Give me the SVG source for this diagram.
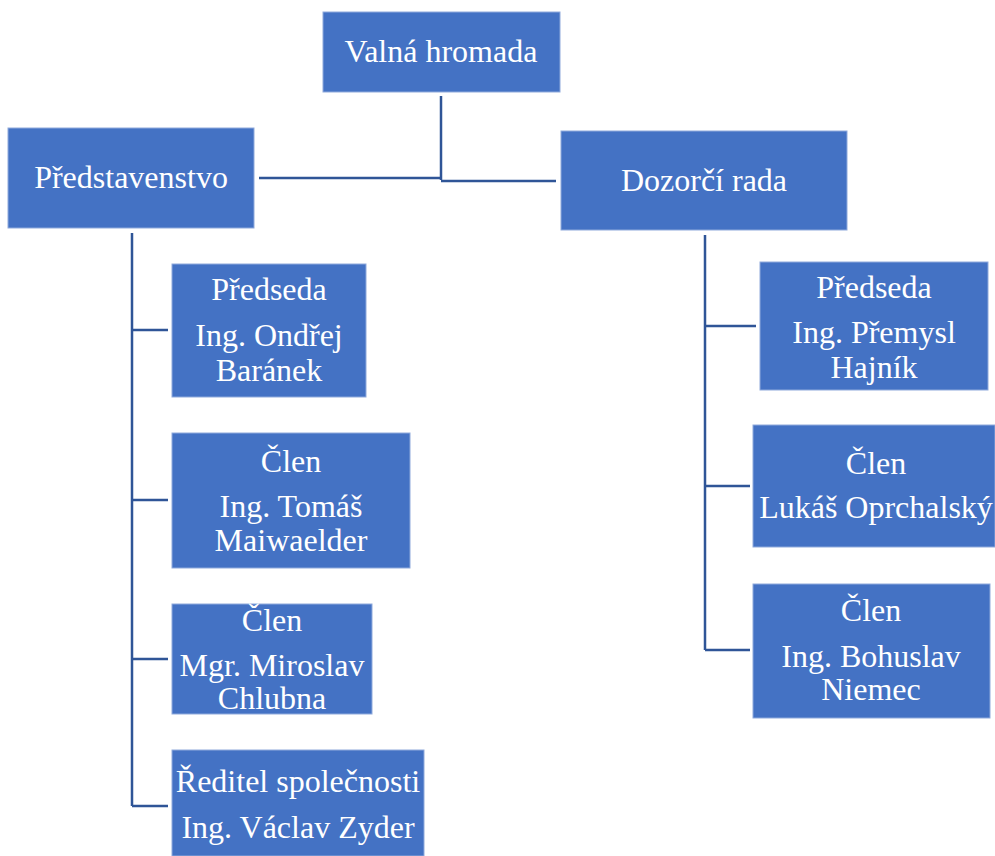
<svg xmlns="http://www.w3.org/2000/svg" width="995" height="856" viewBox="0 0 995 856">
<style>
.box{fill:#4472C4;stroke:#8FAADC;stroke-width:1}
.t{font-size:32px;fill:#fff;text-anchor:middle}
.c{stroke:#2F5597;stroke-width:2.5;fill:none}
</style>
<rect width="995" height="856" fill="#fff"/>
<g id="connectors">
<path class="c" d="M441,96 V180"/>
<path class="c" d="M259,178 H441"/>
<path class="c" d="M441,181 H556"/>
<path class="c" d="M132,233 V806"/>
<path class="c" d="M132,330 H168 M132,500 H168 M132,659 H168 M132,806 H168"/>
<path class="c" d="M705,235 V650"/>
<path class="c" d="M705,326 H756 M705,486 H750 M705,650 H750"/>
</g>
<g font-family="Liberation Serif, Times New Roman, serif">
<g id="valna"><rect class="box" x="323" y="12" width="237" height="80"/><text class="t" x="441" y="62">Valná hromada</text></g>
<g id="predstavenstvo"><rect class="box" x="8" y="128" width="246" height="100"/><text class="t" x="131" y="188">Představenstvo</text></g>
<g id="dozorci"><rect class="box" x="561" y="131" width="286" height="99"/><text class="t" x="704" y="191">Dozorčí rada</text></g>
<g id="p1"><rect class="box" x="172" y="264" width="194" height="133"/><text class="t" x="269" y="300">Předseda</text><text class="t" x="269" y="346">Ing. Ondřej</text><text class="t" x="269" y="381">Baránek</text></g>
<g id="p2"><rect class="box" x="172" y="433" width="238" height="135"/><text class="t" x="291" y="472">Člen</text><text class="t" x="291" y="517">Ing. Tomáš</text><text class="t" x="291" y="551">Maiwaelder</text></g>
<g id="p3"><rect class="box" x="172" y="604" width="200" height="110"/><text class="t" x="272" y="631">Člen</text><text class="t" x="272" y="676">Mgr. Miroslav</text><text class="t" x="272" y="709">Chlubna</text></g>
<g id="p4"><rect class="box" x="172" y="750" width="252" height="106"/><text class="t" x="298" y="792">Ředitel společnosti</text><text class="t" x="298" y="838">Ing. Václav Zyder</text></g>
<g id="d1"><rect class="box" x="760" y="262" width="228" height="128"/><text class="t" x="874" y="298">Předseda</text><text class="t" x="874" y="343">Ing. Přemysl</text><text class="t" x="874" y="378">Hajník</text></g>
<g id="d2"><rect class="box" x="753" y="425" width="242" height="122"/><text class="t" x="876" y="474">Člen</text><text class="t" x="876" y="518">Lukáš Oprchalský</text></g>
<g id="d3"><rect class="box" x="753" y="584" width="237" height="134"/><text class="t" x="871" y="621">Člen</text><text class="t" x="871" y="667">Ing. Bohuslav</text><text class="t" x="871" y="700">Niemec</text></g>
</g>
</svg>
